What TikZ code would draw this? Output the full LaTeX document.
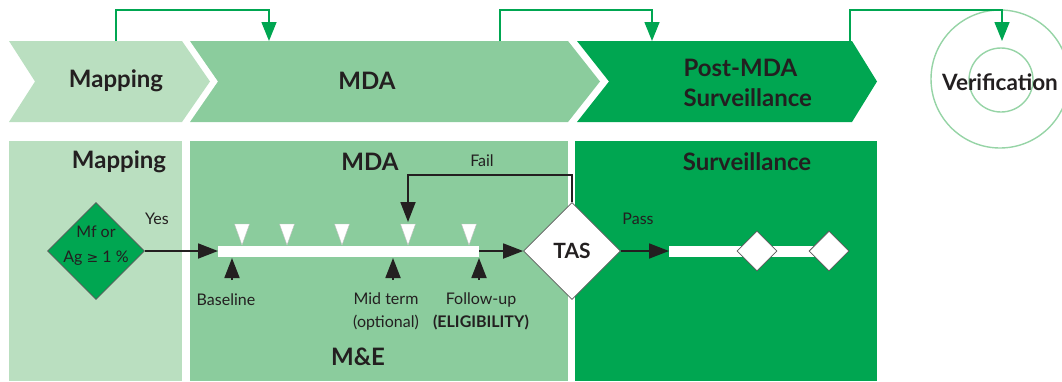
\documentclass[tikz,border=0pt]{standalone}
\usepackage{fontspec}
\setmainfont{Lato}
\newfontfamily\symf{DejaVu Sans}
\usetikzlibrary{arrows.meta,shapes.geometric}
\definecolor{lg}{RGB}{186,223,192}
\definecolor{mg}{RGB}{139,204,157}
\definecolor{dg}{RGB}{0,166,81}
\definecolor{tx}{RGB}{35,31,32}
\definecolor{circ}{RGB}{150,212,166}
\definecolor{edge}{RGB}{90,90,90}
\tikzset{
  head/.style={font=\fontsize{24}{26}\selectfont\bfseries, text=tx},
  small/.style={font=\fontsize{16}{18}\selectfont, text=tx, align=center, inner sep=0},
  garrow/.style={draw=dg, line width=1.5pt, -{Triangle[length=19pt,width=15pt]}},
  karrow/.style={draw=tx, line width=1.8pt, -{Triangle[length=20pt,width=15pt]}},
  dec/.style={diamond, draw=edge, line width=0.8pt, inner sep=0, aspect=1},
  wtri/.style={fill=white, draw=black!25, line width=0.4pt},
}
\begin{document}
\begin{tikzpicture}[x=1pt,y=-1pt]
\useasboundingbox (0,0) rectangle (1062,381);
% top chevrons
\fill[lg] (9,41) -- (182,41) -- (210,81.5) -- (182,122) -- (9,122) -- (35,81.5) -- cycle;
\fill[mg] (190,41) -- (568,41) -- (600,81.5) -- (568,122) -- (190,122) -- (218,81.5) -- cycle;
\fill[dg] (577,41) -- (852,41) -- (877,81.5) -- (852,122) -- (577,122) -- (609,81.5) -- cycle;
\node[head] (tmap) at (116,81) {Mapping};
\node[head] (tmda) at (367,81) {MDA};
\node[head, anchor=west, align=left, font=\fontsize{24}{30}\selectfont\bfseries] (tpost) at (680,83) {Post-MDA\\Surveillance};
% verification
\node[circle, draw=circ, line width=1.4pt, minimum size=138pt, inner sep=0] (vout) at (1000,79) {};
\node[circle, draw=circ, line width=1.4pt, minimum size=64pt, inner sep=0] (vin) at (1001,80) {};
\node[head, font=\fontsize{22.5}{24}\selectfont\bfseries] (tver) at (1000,82) {Verification};
% green arrows
\coordinate (g1s) at (116,41); \coordinate (g1e) at (269,41);
\coordinate (g2s) at (500,41); \coordinate (g2e) at (652,41);
\coordinate (g3s) at (850,41); \coordinate (g3e) at (1002,41);
\draw[garrow] (g1s) -- (116,10) -| (g1e);
\draw[garrow] (g2s) -- (500,10) -| (g2e);
\draw[garrow] (g3s) -- (850,10) -| (g3e);
% panels
\fill[lg] (9,141) rectangle (182,381);
\fill[mg] (190,141) rectangle (568,381);
\fill[dg] (575,141) rectangle (877,381);
\node[head] (bmap) at (119,162) {Mapping};
\node[head] (bmda) at (370,162) {MDA};
\node[head] (bsur) at (747,162) {Surveillance};
\node[head] (bme) at (358,357) {M\&E};
% mapping decision
\node[dec, fill=dg, minimum size=97pt] (dmap) at (96,251) {};
\node[small, font=\fontsize{16}{25}\selectfont] at (96,246) {Mf or\\Ag {\symf\fontsize{14}{14}\selectfont ≥} 1 \%};
\node[small] (yes) at (157,219) {Yes};
% timeline bar
\fill[white] (218,245.5) rectangle (479,256.5);
\coordinate (barL) at (218,251); \coordinate (barR) at (479,251);
\draw[karrow] (dmap.east) -- (barL);
\foreach \x in {242,287,342,408,469}{
  \draw[wtri] (\x-7.5,224) -- (\x+7.5,224) -- (\x,245) -- cycle;
}
\foreach \x/\n in {232/ab,393/am,479/af}{
  \coordinate (\n) at (\x,280);
  \draw[karrow] (\n) -- (\x,258);
}
\node[small] (lb) at (226,300) {Baseline};
\node[small, font=\fontsize{16}{23}\selectfont] (lm) at (386,311) {Mid term\\(optional)};
\node[small, font=\fontsize{16}{23}\selectfont] (lf) at (481,311) {Follow-up\\{\bfseries (ELIGIBILITY)}};
% TAS
\node[dec, fill=white, minimum size=97pt, font=\fontsize{21}{22}\selectfont\bfseries, text=tx] (tas) at (572,251) {TAS};
\draw[karrow] (barR) -- (tas.west);
\coordinate (fail) at (408,222);
\draw[karrow] (tas.north) -- (572,175) -| (fail);
\node[small] (lfail) at (482,161) {Fail};
% surveillance
\fill[white] (669,245.5) rectangle (830,256.5);
\coordinate (sbar) at (669,251);
\draw[karrow] (tas.east) -- (sbar);
\node[small] (lpass) at (638,219) {Pass};
\node[dec, fill=white, minimum size=40pt] (s1) at (757,251) {};
\node[dec, fill=white, minimum size=40pt] (s2) at (829,251) {};
\end{tikzpicture}
\end{document}
